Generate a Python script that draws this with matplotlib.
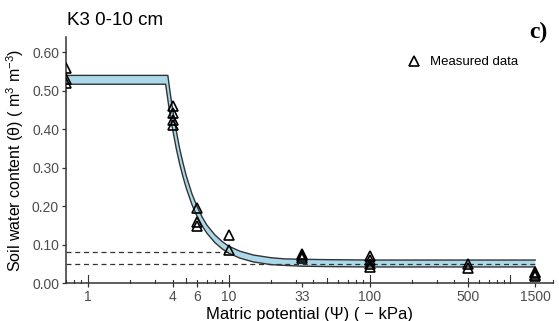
import numpy as np
import matplotlib
matplotlib.use("Agg")
import matplotlib.pyplot as plt

plt.rcParams['font.family'] = ['Liberation Sans', 'DejaVu Sans']
plt.rcParams['mathtext.fontset'] = 'custom'
plt.rcParams['mathtext.rm'] = 'Liberation Sans'
plt.rcParams['mathtext.it'] = 'Liberation Sans:italic'

# fitted band (upper / lower curves)
psi_up = [0.7, 3.7, 3.85, 4.0, 4.25, 4.5, 4.75, 5.0, 5.5, 6.0, 6.5, 7.0, 8.0, 9.0,
          10, 12, 15, 20, 25, 33, 50, 100, 200, 500, 1500]
theta_up = [0.540, 0.540, 0.493, 0.452, 0.395, 0.348, 0.311, 0.279, 0.231, 0.197, 0.171,
            0.151, 0.125, 0.108, 0.096, 0.083, 0.073, 0.066, 0.063, 0.062, 0.061, 0.060,
            0.060, 0.060, 0.060]
psi_lo = [0.7, 3.57, 3.75, 3.9, 4.0, 4.25, 4.5, 4.75, 5.0, 5.5, 6.0, 6.5, 7.0, 8.0, 9.0,
          10, 12, 15, 20, 25, 33, 50, 100, 200, 500, 1500]
theta_lo = [0.517, 0.517, 0.462, 0.423, 0.400, 0.349, 0.308, 0.275, 0.247, 0.203, 0.172,
            0.148, 0.130, 0.105, 0.089, 0.078, 0.065, 0.055, 0.048, 0.046, 0.044, 0.043,
            0.042, 0.042, 0.042, 0.042]

# measured data
psi_meas = [0.7, 0.7, 0.7, 4, 4, 4, 4, 6, 6, 6, 10, 10, 33, 33, 33,
            100, 100, 100, 100, 500, 500, 1500, 1500, 1500, 1500]
theta_meas = [0.558, 0.530, 0.520, 0.460, 0.443, 0.425, 0.410, 0.196, 0.160, 0.148,
              0.125, 0.087, 0.077, 0.070, 0.066, 0.071, 0.060, 0.051, 0.043,
              0.051, 0.040, 0.030, 0.026, 0.022, 0.019]

# field capacity / wilting point
fc_psi, fc_theta = 10, 0.081
wp_psi, wp_theta = 1500, 0.050

xticks = [1, 4, 6, 10, 33, 100, 500, 1500]
yticks = [0.0, 0.1, 0.2, 0.3, 0.4, 0.5, 0.6]

fig = plt.figure(figsize=(5.59, 3.21), dpi=100)
ax = fig.add_axes([0.118, 0.118, 0.871, 0.767])

band_x = np.concatenate([psi_up, psi_lo[::-1]])
band_y = np.concatenate([theta_up, theta_lo[::-1]])
ax.fill(band_x, band_y, color='#abd9ea', lw=0)
ax.plot(psi_up, theta_up, color='#333333', lw=1.0)
ax.plot(psi_lo, theta_lo, color='#333333', lw=1.0)

ax.plot([0.7, fc_psi], [fc_theta, fc_theta], color='#333333', lw=0.9, ls=(0, (4, 3)))
ax.plot([0.7, wp_psi], [wp_theta, wp_theta], color='#333333', lw=0.9, ls=(0, (4, 3)))

ax.plot(psi_meas, theta_meas, ls='none', marker='^', ms=6.5, mfc='none',
        mec='black', mew=1.2, label='Measured data', zorder=5)

ax.set_xscale('log')
ax.set_xlim(0.7, 2000)
ax.set_ylim(0, 0.64)
ax.set_xticks(xticks)
ax.set_xticklabels([str(t) for t in xticks])
ax.xaxis.set_minor_locator(matplotlib.ticker.NullLocator())
ax.set_yticks(yticks)
ax.set_yticklabels(['%.2f' % t for t in yticks])

# log ticks inside the plot
xt = ax.get_xaxis_transform()
for dec in [0.1, 1, 10, 100, 1000]:
    for m in range(1, 10):
        v = dec * m
        if v < 0.7 or v > 2000:
            continue
        if m == 1:
            h = 0.033
        elif m == 5:
            h = 0.022
        else:
            h = 0.012
        ax.plot([v, v], [0, h], transform=xt, color='#333333', lw=0.8, clip_on=False)

for s in ['top', 'right']:
    ax.spines[s].set_visible(False)
for s in ['left', 'bottom']:
    ax.spines[s].set_color('#333333')
    ax.spines[s].set_linewidth(1.1)
ax.tick_params(length=3, width=0.9, color='#333333', labelcolor='#4d4d4d', labelsize=10, pad=2)

ax.set_xlabel('Matric potential (Ψ) ( − kPa)', fontsize=12, color='black', labelpad=2)
ax.set_ylabel('Soil water content (θ) ( m$^{3}$ m$^{-3}$)', fontsize=11.5, color='black', labelpad=4)

fig.text(0.12, 0.935, 'K3 0-10 cm', fontsize=13.5, ha='left', va='center')
fig.text(0.979, 0.90, 'c)', fontsize=17, fontweight='bold', family='Liberation Serif',
         ha='right', va='center')

ax.legend(loc='upper left', bbox_to_anchor=(0.705, 0.862), bbox_transform=fig.transFigure,
          frameon=False, fontsize=9.5, handletextpad=0.6, handlelength=1.2)

fig.savefig('out.png', dpi=100)
